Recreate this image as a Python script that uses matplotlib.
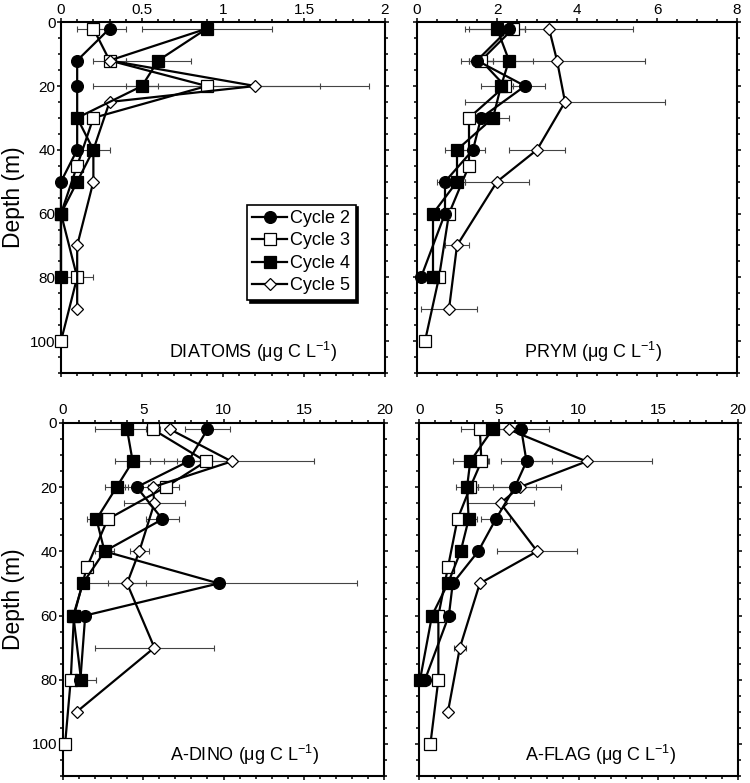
import numpy as np
import matplotlib
matplotlib.use("Agg")
import matplotlib.pyplot as plt
from matplotlib.ticker import MultipleLocator, FuncFormatter

plt.rcParams["font.family"] = ["Liberation Sans", "DejaVu Sans"]
plt.rcParams["mathtext.fontset"] = "custom"
plt.rcParams["mathtext.rm"] = "Liberation Sans"
plt.rcParams["mathtext.it"] = "Liberation Sans"

# depths (m) sampled in each cycle
DEPTH_C2 = [2, 12, 20, 30, 40, 50, 60, 80]
DEPTH_C3 = [2, 12, 20, 30, 45, 60, 80, 100]
DEPTH_C4 = [2, 12, 20, 30, 40, 50, 60, 80]
DEPTH_C5 = [2, 12, 20, 25, 40, 50, 70, 90]

nan = np.nan

# DIATOMS
DIA_C2 = [0.3, 0.1, 0.1, 0.1, 0.1, 0.0, 0.0, 0.0]
DIA_C2_ERR = [0.1, 0, 0, 0, 0, 0, 0, 0]
DIA_C3 = [0.2, 0.3, 0.9, 0.2, 0.1, 0.0, 0.1, 0.0]
DIA_C3_ERR = [0.1, 0.1, 0.7, 0, 0, 0, 0.1, 0]
DIA_C4 = [0.9, 0.6, 0.5, 0.1, 0.2, 0.1, 0.0, 0.0]
DIA_C4_ERR = [0.4, 0.2, 0.1, 0, 0.1, 0, 0, 0]
DIA_C5 = [0.9, 0.3, 1.2, 0.3, 0.2, 0.2, 0.1, 0.1]
DIA_C5_ERR = [0, 0, 0.7, 0, 0, 0, 0, 0]

# PRYM
PRY_C2 = [2.3, 1.5, 2.7, 1.6, 1.4, 0.7, 0.7, 0.1]
PRY_C2_ERR = [0.4, 0.4, 0.5, 0.2, 0.3, 0.2, 0, 0]
PRY_C3 = [2.4, 1.6, 2.2, 1.3, 1.3, 0.8, 0.55, 0.2]
PRY_C3_ERR = [0.3, 0.3, 0.2, 0.1, 0.1, 0.1, 0.1, 0.1]
PRY_C4 = [2.0, 2.3, 2.1, 1.9, 1.0, 1.0, 0.4, 0.4]
PRY_C4_ERR = [0.7, 0.6, 0.5, 0.4, 0.3, 0.2, 0, 0]
PRY_C5 = [3.3, 3.5, nan, 3.7, 3.0, 2.0, 1.0, 0.8]
PRY_C5_ERR = [2.1, 2.2, 0, 2.5, 0.7, 0.8, 0.3, 0.7]

# A-DINO
DIN_C2 = [9.0, 7.8, 4.6, 6.2, 2.6, 9.7, 1.4, 1.1]
DIN_C2_ERR = [1.4, 1.5, 0.7, 1.0, 0.3, 8.6, 0.3, 0.3]
DIN_C3 = [5.6, 8.9, 6.4, 2.8, 1.5, 0.7, 0.5, 0.15]
DIN_C3_ERR = [0.45, 1.8, 0.8, 0.3, 0.2, 0, 0.2, 0]
DIN_C4 = [4.0, 4.35, 3.35, 2.1, 2.6, 1.25, 0.66, 1.14]
DIN_C4_ERR = [2.0, 1.1, 0.7, 0.6, 0.6, 0, 0, 0.9]
DIN_C5 = [6.67, 10.5, 5.6, 5.7, 4.76, 4.0, 5.7, 0.87]
DIN_C5_ERR = [0, 5.1, 0, 1.9, 0.6, 1.2, 3.7, 0]

# A-FLAG
FLA_C2 = [6.4, 6.73, 6.0, 4.8, 3.7, 2.1, 1.86, 0.36]
FLA_C2_ERR = [1.75, 1.6, 1.35, 0.9, 0, 0, 0.4, 0]
FLA_C3 = [3.8, 3.9, 3.2, 2.4, 1.8, 1.2, 1.2, 0.7]
FLA_C3_ERR = [1.2, 0.5, 0.5, 0.3, 0, 0, 0, 0]
FLA_C4 = [4.6, 3.2, 3.0, 3.1, 2.6, 1.8, 0.8, 0.05]
FLA_C4_ERR = [0.8, 1.1, 0.7, 0.5, 0, 0, 0, 0]
FLA_C5 = [5.6, 10.5, 6.3, 5.1, 7.4, 3.8, 2.55, 1.8]
FLA_C5_ERR = [0, 4.1, 2.6, 2.1, 2.5, 0, 0.4, 0]

LABELS = ["Cycle 2", "Cycle 3", "Cycle 4", "Cycle 5"]
STYLES = [dict(marker="o", mfc="k", ms=8.5, z=5),
          dict(marker="s", mfc="white", ms=8, z=3),
          dict(marker="s", mfc="k", ms=8.5, z=6),
          dict(marker="D", mfc="white", ms=6, z=4)]
DEPTHS = [DEPTH_C2, DEPTH_C3, DEPTH_C4, DEPTH_C5]

PANELS = [
    ("DIATOMS", [DIA_C2, DIA_C3, DIA_C4, DIA_C5],
     [DIA_C2_ERR, DIA_C3_ERR, DIA_C4_ERR, DIA_C5_ERR], 2, 0.5, 0.1),
    ("PRYM", [PRY_C2, PRY_C3, PRY_C4, PRY_C5],
     [PRY_C2_ERR, PRY_C3_ERR, PRY_C4_ERR, PRY_C5_ERR], 8, 2, 0.5),
    ("A-DINO", [DIN_C2, DIN_C3, DIN_C4, DIN_C5],
     [DIN_C2_ERR, DIN_C3_ERR, DIN_C4_ERR, DIN_C5_ERR], 20, 5, 1),
    ("A-FLAG", [FLA_C2, FLA_C3, FLA_C4, FLA_C5],
     [FLA_C2_ERR, FLA_C3_ERR, FLA_C4_ERR, FLA_C5_ERR], 20, 5, 1),
]

POS = [[0.0813, 0.5236, 0.432, 0.448],
       [0.556, 0.5236, 0.4267, 0.448],
       [0.0836, 0.0089, 0.429, 0.451],
       [0.559, 0.0089, 0.425, 0.451]]

fig = plt.figure(figsize=(7.5, 7.83), dpi=100)

for i, (name, series, errs, xmax, xmaj, xmin) in enumerate(PANELS):
    ax = fig.add_axes(POS[i])
    for lab, st, dep, vals, err in zip(LABELS, STYLES, DEPTHS, series, errs):
        dep = np.array(dep, float)
        vals = np.array(vals, float)
        err = np.array(err, float)
        ok = ~np.isnan(vals)
        e = ok & (err > 0)
        ax.errorbar(vals[e], dep[e], xerr=err[e], fmt="none", ecolor="#444",
                    elinewidth=0.8, capsize=2, capthick=0.8, zorder=2)
        ax.plot(vals[ok], dep[ok], color="k", lw=1.6, marker=st["marker"],
                ms=st["ms"], mfc=st["mfc"], mec="k", mew=0.9,
                zorder=st["z"], label=lab, clip_on=False)
    ax.set_xlim(0, xmax)
    ax.set_ylim(110, 0)
    ax.xaxis.set_major_locator(MultipleLocator(xmaj))
    ax.xaxis.set_minor_locator(MultipleLocator(xmin))
    ax.yaxis.set_major_locator(MultipleLocator(20))
    ax.yaxis.set_minor_locator(MultipleLocator(5))
    ax.xaxis.set_major_formatter(FuncFormatter(lambda v, p: "%g" % v))
    ax.tick_params(which="both", direction="out", top=True, bottom=True,
                   left=True, right=True, labeltop=True, labelbottom=False,
                   labelleft=(i % 2 == 0), labelsize=11, width=1.1, pad=0.8)
    ax.tick_params(which="major", length=3.2)
    ax.tick_params(which="minor", length=2.2)
    for sp in ax.spines.values():
        sp.set_linewidth(1.5)
    ax.text(0.333, 0.06, name + r" (μg C L$^{-1}$)", transform=ax.transAxes,
            fontsize=13, ha="left", va="center")
    if i % 2 == 0:
        fig.text(0.018, POS[i][1] + POS[i][3] / 2, "Depth (m)", rotation=90,
                 fontsize=16.5, ha="center", va="center")
    if i == 0:
        ax.legend(loc="upper left", bbox_to_anchor=(0.574, 0.48), fontsize=13,
                  frameon=True, fancybox=False, edgecolor="k", framealpha=1,
                  shadow={"color": "k", "alpha": 1}, handlelength=1.9,
                  handletextpad=0.2, borderpad=0.3, labelspacing=0.3,
                  borderaxespad=0)
        ax.get_legend().get_frame().set_linewidth(1.2)

fig.savefig("out.png", dpi=100)
